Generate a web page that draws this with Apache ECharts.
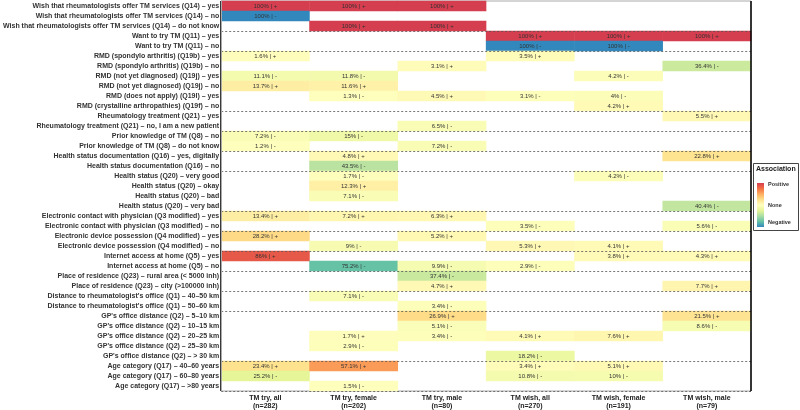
<!DOCTYPE html>
<html><head><meta charset="utf-8">
<script src="https://cdn.jsdelivr.net/npm/echarts@6/dist/echarts.min.js"></script>
<style>html,body{margin:0;padding:0;background:#fff}#c{width:800px;height:410px}</style>
</head><body><div id="c"></div>
<script>
const rowLabels = [
 "Wish that rheumatologists offer TM services (Q14) – yes",
 "Wish that rheumatologists offer TM services (Q14) – no",
 "Wish that rheumatologists offer TM services (Q14) – do not know",
 "Want to try TM (Q11) – yes",
 "Want to try TM (Q11) – no",
 "RMD (spondylo arthritis) (Q19b) – yes",
 "RMD (spondylo arthritis) (Q19b) – no",
 "RMD (not yet diagnosed) (Q19j) – yes",
 "RMD (not yet diagnosed) (Q19j) – no",
 "RMD (does not apply) (Q19l) – yes",
 "RMD (crystalline arthropathies) (Q19f) – no",
 "Rheumatology treatment (Q21) – yes",
 "Rheumatology treatment (Q21) – no, I am a new patient",
 "Prior knowledge of TM (Q8) – no",
 "Prior knowledge of TM (Q8) – do not know",
 "Health status documentation (Q16) – yes, digitally",
 "Health status documentation (Q16) – no",
 "Health status (Q20) – very good",
 "Health status (Q20) – okay",
 "Health status (Q20) – bad",
 "Health status (Q20) – very bad",
 "Electronic contact with physician (Q3 modified) – yes",
 "Electronic contact with physician (Q3 modified) – no",
 "Electronic device possession (Q4 modified) – yes",
 "Electronic device possession (Q4 modified) – no",
 "Internet access at home (Q5) – yes",
 "Internet access at home (Q5) – no",
 "Place of residence (Q23) – rural area (< 5000 inh)",
 "Place of residence (Q23) – city (>100000 inh)",
 "Distance to rheumatologist's office (Q1) – 40–50 km",
 "Distance to rheumatologist's office (Q1) – 50–60 km",
 "GP's office distance (Q2) – 5–10 km",
 "GP's office distance (Q2) – 10–15 km",
 "GP's office distance (Q2) – 20–25 km",
 "GP's office distance (Q2) – 25–30 km",
 "GP's office distance (Q2) – > 30 km",
 "Age category (Q17) – 40–60 years",
 "Age category (Q17) – 60–80 years",
 "Age category (Q17) – >80 years"
];
const columnLabels = [
 "TM try, all\n(n=282)", "TM try, female\n(n=202)", "TM try, male\n(n=80)",
 "TM wish, all\n(n=270)", "TM wish, female\n(n=191)", "TM wish, male\n(n=79)"
];
// [rowIndex, signed percentage] (+ = positive association, - = negative)
const tryAll = [[0,100],[1,-100],[5,1.6],[7,-11.1],[8,13.7],[13,-7.2],[14,-1.2],[21,13.4],[23,28.2],[25,86],[36,23.4],[37,-25.2]];
const tryFemale = [[0,100],[2,100],[7,-11.8],[8,11.6],[9,-1.3],[13,-15],[15,4.8],[16,-43.5],[17,-1.7],[18,12.3],[19,-7.1],[21,7.2],[24,-9],[26,-75.2],[29,-7.1],[33,1.7],[34,-2.9],[36,57.1],[38,-1.5]];
const tryMale = [[0,100],[2,100],[6,3.1],[9,4.5],[12,-6.5],[14,-7.2],[21,6.3],[23,5.2],[26,-9.9],[27,-37.4],[28,4.7],[30,-3.4],[31,26.9],[32,-5.1],[33,-3.4]];
const wishAll = [[3,100],[4,-100],[5,3.5],[9,-3.1],[22,-3.5],[24,5.3],[26,-2.9],[33,4.1],[35,-18.2],[36,3.4],[37,-10.8]];
const wishFemale = [[3,100],[4,-100],[7,-4.2],[9,-4],[10,4.2],[17,-4.2],[24,4.1],[25,3.8],[33,7.6],[36,5.1],[37,-10]];
const wishMale = [[3,100],[6,-36.4],[11,5.5],[15,22.8],[20,-40.4],[22,-5.6],[25,4.3],[28,7.7],[31,21.5],[32,-8.6]];
const groupStarts = [3,5,11,13,15,17,21,23,25,27,29,31,36];

const columns = [tryAll, tryFemale, tryMale, wishAll, wishFemale, wishMale];
const cells = [];
columns.forEach((col, ci) => col.forEach(([ri, v]) => cells.push([ci, ri, v])));

const palette = ['#3288bd','#66c2a5','#abdda4','#e6f598','#ffffbf','#fee08b','#fdae61','#f46d43','#d53e4f'];

const chart = echarts.init(document.getElementById('c'), null, {renderer:'canvas'});
chart.setOption({
  animation: false,
  grid: {left: 215, right: 49, top: 1, bottom: 19, show: true, borderColor: '#aaa', borderWidth: 1},
  xAxis: {
    type: 'category', data: columnLabels, position: 'bottom', z: 5,
    axisLine: {show: false}, axisTick: {show: false},
    axisLabel: {fontSize: 7, fontWeight: 'bold', color: '#222', lineHeight: 8, margin: 3, fontFamily: 'Liberation Sans'},
    splitLine: {show: true, interval: (i) => i === 3, lineStyle: {color: '#000', width: 1.5, type: 'solid'}}
  },
  yAxis: {
    type: 'category', data: rowLabels, inverse: true, z: 5,
    axisLine: {show: true, lineStyle: {color: '#aaa'}}, axisTick: {show: false},
    axisLabel: {fontSize: 7, fontWeight: 'bold', color: '#333', margin: 2, fontFamily: 'Liberation Sans', interval: 0},
    splitLine: {show: true, interval: (i) => groupStarts.indexOf(i) >= 0, lineStyle: {color: '#555', width: 0.8, type: [2, 2]}}
  },
  visualMap: {show: false, min: -100, max: 100, dimension: 2, inRange: {color: palette}},
  series: [{
    type: 'heatmap', data: cells, z: 1,
    itemStyle: {borderWidth: 0},
    label: {show: true, fontSize: 6, color: '#333', fontFamily: 'Liberation Sans',
      formatter: (p) => Math.abs(p.data[2]) + '% | ' + (p.data[2] > 0 ? '+' : '-')}
  }],
  graphic: [
    {type: 'rect', shape: {x: 753.5, y: 163.5, width: 45, height: 67}, style: {fill: '#fff', stroke: '#444', lineWidth: 1}},
    {type: 'text', x: 756, y: 166, style: {text: 'Association', fontSize: 7, fontWeight: 'bold', fill: '#222', fontFamily: 'Liberation Sans'}},
    {type: 'rect', shape: {x: 757, y: 183, width: 7, height: 44}, style: {fill: new echarts.graphic.LinearGradient(0,0,0,1, palette.slice().reverse().map((c,i,a)=>({offset: i/(a.length-1), color: c})))}},
    {type: 'text', x: 768, y: 181, style: {text: 'Positive', fontSize: 5.5, fontWeight: 'bold', fill: '#333', fontFamily: 'Liberation Sans'}},
    {type: 'text', x: 768, y: 202, style: {text: 'None', fontSize: 5.5, fontWeight: 'bold', fill: '#333', fontFamily: 'Liberation Sans'}},
    {type: 'text', x: 768, y: 219, style: {text: 'Negative', fontSize: 5.5, fontWeight: 'bold', fill: '#333', fontFamily: 'Liberation Sans'}}
  ]
});
</script></body></html>
